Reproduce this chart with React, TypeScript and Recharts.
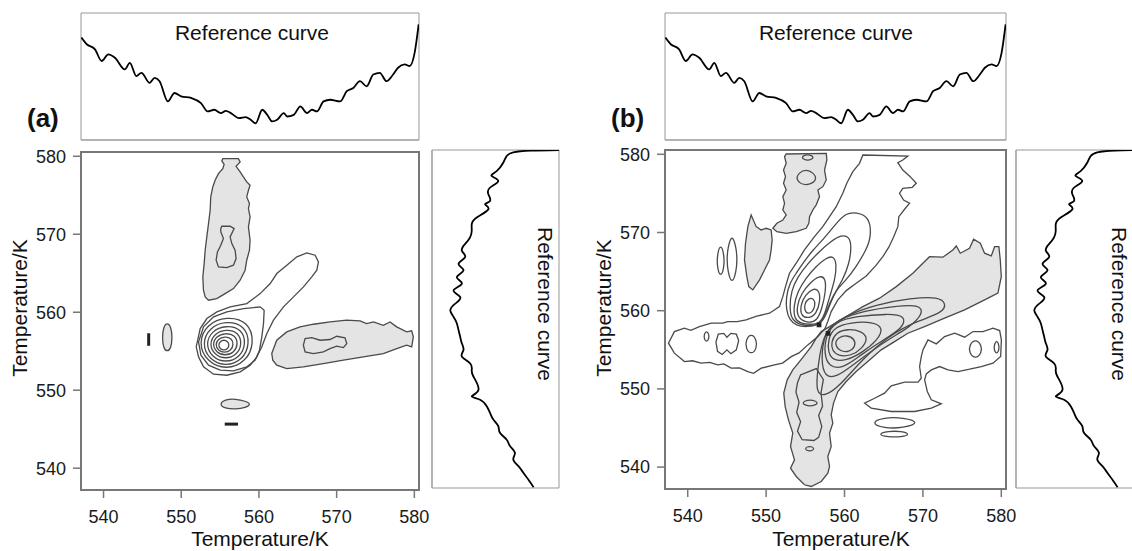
import {
  ScatterChart, Scatter, LineChart, Line, XAxis, YAxis, ReferenceArea,
} from 'recharts'

type Pt = [number, number]

const FONT = '"Liberation Sans", Arial, Helvetica, sans-serif'
const GRAY = '#e4e4e4'
const LINE = '#4a4a4a'

// axes
const X_DOMAIN: [number, number] = [537.1, 580.6]
const Y_DOMAIN: [number, number] = [537.2, 580.55]
const MAIN_TICKS = [540, 550, 560, 570, 580]
const TOP_DOMAIN: [number, number] = [536.9, 580.65]
const TOP_TICKS = [540, 545, 550, 555, 560, 565, 570, 575, 580]
const SIDE_DOMAIN: [number, number] = [536.9, 580.5]
const SIDE_TICKS = [540, 545, 550, 555, 560, 565, 570, 575]

// reference curves: [temperature, intensity 0-100]
const REF_TOP: Pt[] = [
  [536.95, 80.7], [537.64, 75.4], [538.71, 71.4], [539.57, 62.2], [540.43, 67.5], [541.29, 64.8],
  [542.57, 55.6], [543.22, 60.8], [544.07, 50.3], [544.72, 52.9], [545.79, 45.0], [546.43, 48.9],
  [547.07, 46.3], [548.15, 30.4], [549.0, 37.0], [549.86, 34.4], [551.15, 33.1], [552.43, 29.1],
  [553.29, 22.5], [554.15, 23.8], [555.0, 21.2], [555.65, 23.0], [556.3, 21.2], [557.36, 17.2],
  [558.22, 18.0], [558.86, 15.9], [559.51, 13.2], [560.36, 23.8], [561.01, 19.8], [561.65, 14.6],
  [562.29, 15.9], [563.15, 21.2], [563.58, 18.5], [564.44, 19.8], [565.29, 26.5], [566.15, 21.2],
  [566.8, 23.8], [567.44, 22.5], [568.3, 30.4], [569.15, 31.7], [570.44, 30.4], [571.3, 38.4],
  [572.15, 41.0], [573.01, 46.3], [573.87, 42.3], [574.73, 51.6], [575.58, 52.9], [576.44, 46.3],
  [577.3, 51.6], [577.94, 56.9], [578.8, 59.5], [579.44, 58.2], [580.09, 68.8], [580.6, 91.0],
]

const REF_SIDE: Pt[] = [
  [580.5, 100], [580.42, 78], [580.2, 64], [579.7, 58.7], [578.85, 56.1], [577.78, 50.9],
  [577.14, 47.0], [576.5, 52.2], [575.64, 45.7], [574.79, 44.4], [573.93, 45.7], [573.5, 41.8],
  [572.86, 44.4], [571.79, 35.2], [570.94, 31.3], [570.09, 31.3], [569.23, 30.0], [568.38, 26.1],
  [567.52, 23.5], [566.67, 26.1], [565.81, 20.9], [564.96, 24.8], [564.1, 19.6], [563.25, 23.5],
  [562.39, 17.0], [561.54, 22.2], [560.68, 18.3], [559.83, 14.4], [558.97, 17.0], [558.12, 19.6],
  [557.26, 20.9], [556.41, 22.2], [555.56, 23.5], [554.7, 24.8], [553.85, 23.5], [552.99, 30.0],
  [552.14, 31.3], [551.28, 32.6], [549.57, 36.6], [548.72, 31.3], [548.29, 37.9], [547.44, 43.1],
  [546.58, 45.7], [545.73, 48.3], [544.87, 52.2], [544.02, 53.5], [543.16, 58.7], [542.31, 61.4],
  [541.45, 65.3], [540.6, 64.0], [539.74, 67.9], [538.89, 71.8], [538.03, 75.7], [537.0, 80.0],
]

// ---- panel (a) contours: [T1, T2] ----
const A_TOP_LOBE: Pt[] = [
  [555.35, 579.7], [557.36, 579.7], [557.58, 579.27], [557.06, 578.72], [557.58, 577.99], [558.0, 577.35],
  [558.43, 576.71], [558.86, 576.28], [558.65, 575.64], [558.43, 574.79], [558.78, 573.93], [558.65, 573.29],
  [558.86, 572.22], [558.65, 570.94], [558.86, 569.23], [558.78, 567.95], [558.43, 566.67], [558.22, 565.39],
  [557.58, 564.1], [556.72, 563.03], [555.65, 562.39], [554.58, 561.75], [553.51, 561.54], [553.08, 561.97],
  [552.86, 562.82], [552.78, 564.53], [552.95, 566.24], [553.08, 567.95], [553.29, 569.66], [553.51, 571.37],
  [553.72, 573.08], [553.8, 574.79], [554.06, 576.07], [554.36, 576.92], [554.79, 577.78], [555.35, 578.42],
  [555.52, 578.97], [555.22, 579.4],
]
const A_TOP_INNER: Pt[] = [
  [555.22, 571.03], [556.29, 571.03], [556.81, 570.73], [556.29, 569.66], [556.51, 568.8], [556.93, 567.95],
  [557.06, 566.88], [556.72, 566.03], [555.86, 565.73], [554.79, 565.81], [554.49, 566.67], [554.66, 567.74],
  [555.09, 568.59], [555.43, 569.45], [555.09, 570.3], [555.09, 570.73],
]
const A_RIGHT_LOBE: Pt[] = [
  [561.65, 554.7], [562.29, 556.41], [563.58, 557.48], [565.29, 558.12], [567.01, 558.46], [569.15, 558.76],
  [571.3, 558.98], [573.01, 558.89], [573.87, 558.55], [574.73, 558.76], [576.01, 558.33], [576.87, 558.76],
  [577.73, 558.12], [579.01, 557.48], [579.66, 557.61], [579.87, 556.84], [579.66, 555.56], [579.01, 555.77],
  [577.73, 555.34], [576.01, 554.7], [573.44, 554.27], [570.87, 553.85], [568.29, 553.42], [565.72, 552.99],
  [563.58, 552.78], [562.29, 553.21], [561.78, 553.85],
]
const A_RIGHT_INNER: Pt[] = [
  [565.72, 555.77], [565.94, 556.62], [566.79, 556.75], [567.87, 556.41], [569.15, 556.5], [570.01, 556.92],
  [571.08, 556.71], [571.3, 555.98], [570.87, 555.47], [570.01, 555.64], [569.15, 555.34], [568.29, 554.91],
  [567.01, 554.7], [565.94, 554.91],
]
const A_DIAG: Pt[] = [
  [551.93, 555.56], [552.44, 557.91], [553.3, 559.19], [554.59, 560.04], [556.3, 560.69], [558.44, 561.11],
  [560.16, 562.39], [561.45, 563.68], [562.3, 564.96], [563.59, 566.03], [564.88, 567.1], [566.16, 567.61],
  [567.23, 567.31], [567.66, 566.45], [567.45, 565.39], [566.8, 564.53], [565.73, 563.25], [564.45, 561.97],
  [563.16, 560.69], [561.87, 558.98], [561.02, 557.27], [560.37, 555.56], [559.73, 554.27], [558.87, 553.21],
  [557.59, 552.35], [555.87, 551.92], [554.16, 552.05], [552.87, 552.99], [552.23, 554.27],
]
const A_LOOP: Pt[] = [
  [552.23, 556.2], [552.87, 558.12], [554.16, 559.4], [555.87, 560.04], [558.02, 560.47], [560.16, 560.69],
  [560.67, 560.26], [560.59, 558.55], [560.37, 556.84], [560.07, 555.13], [559.52, 553.85], [558.44, 553.0],
  [556.73, 552.48], [555.01, 552.57], [553.51, 553.21], [552.53, 554.49],
]
const A_RING_1: Pt[] = [
  [552.2, 556.05], [553.28, 558.47], [555.81, 559.5], [558.7, 558.81], [559.42, 556.05], [558.34, 553.63],
  [555.81, 552.6], [553.28, 553.63],
]
const A_RING_2: Pt[] = [
  [552.67, 555.96], [553.6, 558.02], [555.76, 558.9], [558.23, 558.31], [558.85, 555.96], [557.92, 553.9],
  [555.76, 553.02], [553.6, 553.9],
]
const A_RING_3: Pt[] = [
  [553.14, 555.92], [553.92, 557.61], [555.74, 558.34], [557.82, 557.86], [558.34, 555.92], [557.56, 554.23],
  [555.74, 553.5], [553.92, 554.23],
]
const A_RING_4: Pt[] = [
  [553.62, 555.9], [554.25, 557.25], [555.72, 557.83], [557.4, 557.44], [557.82, 555.9], [557.19, 554.55],
  [555.72, 553.97], [554.25, 554.55],
]
const A_RING_5: Pt[] = [
  [554.01, 555.88], [554.5, 556.92], [555.66, 557.36], [556.98, 557.06], [557.31, 555.88], [556.82, 554.84],
  [555.66, 554.4], [554.5, 554.84],
]
const A_RING_6: Pt[] = [
  [554.39, 555.83], [554.74, 556.57], [555.57, 556.89], [556.51, 556.68], [556.75, 555.83], [556.4, 555.09],
  [555.57, 554.77], [554.74, 555.09],
]
const A_RING_7: Pt[] = [
  [554.78, 555.79], [554.99, 556.27], [555.49, 556.47], [555.99, 556.27], [556.2, 555.79], [555.99, 555.31],
  [555.49, 555.11], [554.99, 555.31],
]
const A_SMALL_OVAL: Pt[] = [
  [548.2, 558.7], [548.7, 558.1], [548.85, 556.8], [548.7, 555.4], [548.2, 554.9], [547.7, 555.4],
  [547.55, 556.8], [547.7, 558.1],
]
const A_LOW_OVAL: Pt[] = [
  [554.9, 548.2], [555.6, 548.8], [557.0, 548.9], [558.3, 548.6], [559.0, 548.2], [558.3, 547.75],
  [557.0, 547.55], [555.6, 547.65],
]
const A_DASH_LEFT: Pt[] = [[545.72, 557.2], [545.9, 557.2], [545.9, 555.8], [545.72, 555.8]]
const A_DASH_LOW: Pt[] = [[555.7, 545.74], [557.2, 545.74], [557.2, 545.56], [555.7, 545.56]]

// ---- panel (b) contours ----
const B_TOP_LOBE: Pt[] = [
  [552.56, 580.04], [557.67, 580.12], [557.75, 579.27], [557.45, 577.99], [557.67, 576.72], [557.24, 575.86],
  [556.6, 575.44], [556.81, 574.59], [556.39, 573.52], [555.96, 572.88], [555.54, 572.03], [555.45, 571.18],
  [555.11, 570.54], [553.84, 570.11], [552.56, 569.9], [551.37, 570.11], [550.86, 570.54], [551.37, 571.18],
  [552.13, 571.6], [552.56, 572.24], [552.13, 572.88], [552.35, 573.73], [552.13, 574.59], [552.56, 575.44],
  [552.22, 576.29], [552.47, 577.14], [552.22, 577.99], [552.56, 578.85], [552.35, 579.7],
]
const B_TOP_OVAL_1: Pt[] = [[554.3, 579.6], [555.3, 580.1], [556.3, 579.6], [555.3, 579.1]]
const B_TOP_OVAL_2: Pt[] = [
  [553.7, 576.7], [554.2, 577.7], [555.1, 578.05], [556.0, 577.7], [556.6, 576.7], [555.1, 575.85],
]
const B_LEFT_LOBE: Pt[] = [
  [548.09, 572.24], [548.73, 570.75], [549.37, 570.33], [550.01, 570.54], [550.64, 570.33], [550.77, 569.05],
  [550.64, 567.77], [550.43, 566.49], [549.79, 565.21], [549.16, 563.94], [548.3, 562.66], [547.79, 563.08],
  [547.54, 564.36], [547.24, 566.49], [547.37, 568.62], [547.67, 570.75],
]
const B_THIN_1: Pt[] = [
  [545.65, 569.9], [546.2, 568.0], [546.3, 566.6], [546.2, 565.0], [545.65, 563.3], [545.1, 565.0],
  [545.0, 566.6], [545.1, 568.0],
]
const B_THIN_2: Pt[] = [
  [544.2, 568.6], [544.65, 567.2], [544.65, 565.5], [544.2, 564.2], [543.75, 565.5], [543.75, 567.2],
]
const B_GRAY_BAND: Pt[] = [
  [558.09, 557.97], [560.22, 559.25], [562.34, 560.52], [564.47, 561.6], [566.6, 563.08], [568.72, 564.79],
  [569.99, 566.07], [570.85, 566.91], [572.55, 566.84], [573.82, 567.77], [574.26, 568.28], [574.77, 567.35],
  [575.95, 567.99], [576.47, 569.14], [577.32, 568.63], [577.87, 567.35], [578.72, 567.0], [579.15, 568.19],
  [579.69, 568.19], [579.87, 566.49], [580.0, 564.36], [579.57, 562.24], [577.87, 561.38], [575.32, 560.1],
  [572.76, 559.04], [570.21, 557.97], [568.08, 557.12], [566.38, 556.05], [564.68, 554.99], [562.97, 553.5],
  [561.49, 552.22], [560.22, 550.94], [559.15, 549.66], [558.6, 548.18], [558.3, 546.68], [558.51, 545.62],
  [558.09, 544.35], [558.3, 542.63], [557.87, 541.36], [558.09, 540.08], [557.87, 539.23], [557.03, 538.16],
  [555.75, 537.52], [554.89, 537.74], [553.84, 538.8], [553.11, 539.87], [553.62, 540.93], [553.11, 542.63],
  [553.4, 544.35], [552.85, 546.04], [552.43, 547.74], [552.25, 549.46], [552.69, 551.16], [553.4, 552.43],
  [554.26, 553.5], [555.11, 554.57], [555.75, 555.41], [556.39, 556.49], [557.03, 557.33],
]
const B_WHITE_BAND: Pt[] = [
  [562.34, 579.91], [568.08, 579.78], [567.44, 579.27], [566.8, 578.93], [567.44, 577.99], [568.38, 577.14],
  [569.15, 576.29], [568.64, 575.78], [567.44, 575.65], [567.02, 575.02], [567.53, 574.16], [568.3, 573.74],
  [567.66, 572.97], [566.93, 572.03], [566.8, 570.75], [566.25, 569.39], [565.65, 568.12], [564.89, 566.91],
  [563.96, 565.73], [562.77, 564.45], [561.49, 563.51], [560.22, 562.57], [559.15, 561.38], [558.3, 559.89],
  [557.87, 558.61], [557.5, 557.7], [556.6, 556.7], [555.32, 555.63], [554.2, 554.6], [553.2, 554.13],
  [552.1, 553.3], [551.07, 553.07], [549.37, 552.65], [548.4, 552.0], [547.66, 552.22], [546.6, 552.7],
  [545.54, 552.65], [544.6, 553.2], [543.83, 553.07], [542.8, 553.4], [541.71, 553.29], [540.6, 553.6],
  [539.58, 553.5], [538.3, 554.57], [537.54, 555.85], [538.3, 557.33], [539.58, 557.76], [540.4, 557.5],
  [541.49, 557.97], [542.99, 558.4], [544.47, 558.4], [545.11, 558.61], [546.3, 558.6], [547.45, 558.82],
  [548.8, 559.3], [550.43, 559.68], [551.7, 560.52], [552.13, 561.8], [552.47, 563.08], [552.98, 564.79],
  [553.84, 566.07], [554.89, 567.77], [556.17, 569.47], [557.23, 570.75], [558.09, 572.03], [558.94, 573.3],
  [559.78, 575.02], [560.29, 576.29], [561.06, 577.78], [561.91, 578.85],
]
const B_ARM_OVAL_1: Pt[] = [[542.4, 557.6], [542.85, 556.7], [542.4, 555.8], [541.95, 556.7]]
const B_ARM_OVAL_2: Pt[] = [
  [543.6, 556.0], [543.9, 557.0], [544.6, 557.1], [545.0, 556.6], [545.5, 557.1], [546.2, 557.0],
  [546.5, 556.2], [546.2, 555.0], [545.5, 554.5], [545.0, 555.0], [544.4, 554.4], [543.8, 554.8],
]
const B_ARM_OVAL_3: Pt[] = [
  [548.1, 557.1], [548.8, 556.3], [548.8, 555.1], [548.1, 554.4], [547.4, 555.1], [547.4, 556.3],
]
const B_WHITE_1: Pt[] = [
  [552.99, 558.82], [552.56, 560.1], [552.56, 561.81], [552.99, 563.51], [553.84, 564.79], [554.69, 566.07],
  [555.96, 567.77], [557.24, 569.05], [558.94, 571.18], [560.2, 572.5], [561.5, 572.6], [563.2, 572.0],
  [563.41, 569.47], [562.77, 567.77], [561.5, 565.64], [560.22, 563.94], [558.94, 562.66], [558.09, 560.95],
  [557.45, 559.25], [556.8, 558.2], [555.2, 557.9], [553.8, 558.1],
]
const B_WHITE_2: Pt[] = [
  [553.2, 558.9], [553.0, 560.5], [553.2, 562.5], [554.0, 564.3], [555.3, 566.0], [556.8, 567.6],
  [558.3, 568.9], [559.6, 569.7], [560.6, 569.5], [560.9, 568.2], [560.6, 566.0], [559.8, 564.0],
  [558.6, 562.0], [557.7, 559.6], [557.1, 558.4], [555.8, 558.0], [554.3, 558.2],
]
const B_WHITE_3: Pt[] = [
  [553.6, 558.9], [553.5, 560.6], [554.0, 562.4], [555.0, 564.1], [556.4, 565.7], [557.7, 566.8],
  [558.6, 567.0], [559.0, 566.0], [558.8, 564.0], [558.1, 561.8], [557.5, 559.6], [556.9, 558.4],
  [555.6, 558.2], [554.4, 558.4],
]
const B_WHITE_4: Pt[] = [
  [554.0, 559.0], [553.9, 560.6], [554.5, 562.2], [555.6, 563.6], [556.8, 564.5], [557.6, 564.2],
  [557.6, 562.4], [557.1, 560.2], [556.5, 558.7], [555.4, 558.4],
]
const B_WHITE_5: Pt[] = [
  [554.4, 559.3], [554.4, 560.8], [555.0, 562.0], [556.0, 562.9], [556.8, 562.6], [556.9, 561.2],
  [556.4, 559.6], [555.5, 559.0],
]
const B_WHITE_6: Pt[] = [
  [554.9, 560.0], [554.9, 560.9], [555.4, 561.6], [556.1, 561.6], [556.3, 560.7], [555.9, 559.8],
  [555.3, 559.6],
]
const B_GRAY_1: Pt[] = [
  [558.7, 555.8], [559.2, 556.6], [560.3, 556.9], [561.3, 556.4], [561.4, 555.4], [560.6, 554.7], [559.4, 554.8],
]
const B_GRAY_2: Pt[] = [
  [558.3, 556.0], [558.9, 557.2], [560.4, 557.7], [562.2, 557.4], [563.0, 556.5], [562.3, 555.2],
  [560.8, 554.2], [559.2, 554.2], [558.4, 554.9],
]
const B_GRAY_3: Pt[] = [
  [557.9, 556.4], [558.7, 557.9], [560.8, 558.5], [563.6, 558.6], [565.0, 557.8], [564.2, 556.2],
  [562.2, 554.6], [560.2, 553.6], [558.6, 553.6], [557.9, 554.6],
]
const B_GRAY_4: Pt[] = [
  [557.6, 556.8], [558.8, 558.6], [561.5, 559.3], [565.5, 559.6], [567.8, 559.4], [567.5, 557.8],
  [565.0, 556.3], [562.0, 554.3], [559.8, 552.6], [558.0, 552.8], [557.4, 554.5],
]
const B_GRAY_5: Pt[] = [
  [557.4, 557.2], [559.2, 558.9], [562.5, 560.0], [566.5, 560.6], [569.7, 560.8], [570.0, 559.6],
  [568.5, 558.0], [565.0, 556.0], [561.0, 553.0], [559.0, 551.5], [557.5, 551.5], [557.0, 553.6],
]
const B_GRAY_6: Pt[] = [
  [557.3, 557.5], [560.0, 559.3], [564.0, 560.8], [568.5, 561.6], [572.0, 561.8], [573.0, 560.9],
  [572.5, 559.7], [569.0, 558.6], [565.5, 556.7], [562.0, 553.5], [559.5, 550.5], [557.5, 549.0],
  [556.3, 549.5], [556.6, 552.8],
]
const B_STEM_LOOP: Pt[] = [
  [554.4, 551.8], [556.4, 552.6], [557.3, 551.2], [557.0, 549.5], [557.2, 547.8], [556.7, 546.6],
  [557.1, 545.2], [556.7, 543.8], [556.1, 543.4], [554.6, 543.5], [554.0, 544.6], [554.4, 545.8],
  [553.9, 547.0], [554.2, 548.3], [553.8, 549.6], [554.0, 550.8],
]
const B_STEM_OVAL_1: Pt[] = [[554.3, 548.2], [555.6, 548.75], [556.95, 548.2], [555.6, 547.65]]
const B_STEM_OVAL_2: Pt[] = [[554.8, 542.35], [555.55, 542.75], [556.3, 542.35], [555.55, 541.95]]
const B_RIGHT_REGION: Pt[] = [
  [570.01, 554.99], [570.65, 556.27], [571.71, 555.76], [572.77, 556.69], [574.05, 557.12], [575.33, 556.61],
  [576.39, 557.33], [577.66, 557.33], [578.94, 557.76], [579.79, 557.46], [580.01, 556.27], [579.92, 554.14],
  [578.94, 553.29], [577.45, 552.86], [575.96, 552.52], [574.47, 552.22], [573.2, 552.43], [572.13, 552.86],
  [571.07, 552.43], [570.43, 551.92], [570.22, 551.16], [570.56, 549.67], [571.07, 548.6], [572.35, 548.09],
  [571.07, 547.54], [568.94, 547.11], [565.96, 547.11], [563.41, 547.54], [562.56, 548.17], [563.84, 548.81],
  [565.11, 549.45], [565.96, 550.39], [567.67, 550.86], [569.37, 550.86], [569.79, 551.37], [569.58, 552.86],
  [569.79, 554.14],
]
const B_RIGHT_OVAL_1: Pt[] = [
  [576.7, 556.4], [577.5, 555.6], [577.5, 554.6], [576.7, 553.8], [575.9, 554.6], [575.9, 555.6],
]
const B_RIGHT_OVAL_2: Pt[] = [[579.4, 556.4], [579.85, 555.3], [579.4, 554.25], [578.95, 555.3]]
const B_LOW_OVAL_1: Pt[] = [
  [563.3, 545.7], [565.0, 546.35], [567.5, 546.35], [569.7, 545.7], [567.5, 545.0], [565.0, 544.95],
]
const B_LOW_OVAL_2: Pt[] = [
  [564.2, 544.2], [565.5, 544.6], [567.3, 544.6], [568.4, 544.2], [567.3, 543.85], [565.5, 543.85],
]
const B_KNOT_1: Pt[] = [[556.55, 558.4], [556.95, 558.4], [556.95, 558.0], [556.55, 558.0]]
const B_KNOT_2: Pt[] = [[557.7, 557.3], [558.1, 557.3], [558.1, 556.9], [557.7, 556.9]]

type Curve = 'linearClosed' | 'basisClosed'
interface Contour { pts: Pt[]; fill?: string; curve?: Curve; dark?: boolean }

const A_CONTOURS: Contour[] = [
  { pts: A_TOP_LOBE, fill: GRAY },
  { pts: A_TOP_INNER, fill: GRAY },
  { pts: A_RIGHT_LOBE, fill: GRAY },
  { pts: A_RIGHT_INNER, fill: GRAY },
  { pts: A_SMALL_OVAL, fill: GRAY, curve: 'basisClosed' },
  { pts: A_LOW_OVAL, fill: GRAY, curve: 'basisClosed' },
  { pts: A_DIAG },
  { pts: A_LOOP },
  { pts: A_RING_1, curve: 'basisClosed' },
  { pts: A_RING_2, curve: 'basisClosed' },
  { pts: A_RING_3, curve: 'basisClosed' },
  { pts: A_RING_4, curve: 'basisClosed' },
  { pts: A_RING_5, curve: 'basisClosed' },
  { pts: A_RING_6, curve: 'basisClosed' },
  { pts: A_RING_7, curve: 'basisClosed' },
  { pts: A_DASH_LEFT, dark: true },
  { pts: A_DASH_LOW, dark: true },
]

const B_CONTOURS: Contour[] = [
  { pts: B_TOP_LOBE, fill: GRAY },
  { pts: B_TOP_OVAL_1, fill: GRAY, curve: 'basisClosed' },
  { pts: B_TOP_OVAL_2, fill: GRAY, curve: 'basisClosed' },
  { pts: B_LEFT_LOBE, fill: GRAY },
  { pts: B_THIN_1, curve: 'basisClosed' },
  { pts: B_THIN_2, curve: 'basisClosed' },
  { pts: B_GRAY_BAND, fill: GRAY },
  { pts: B_WHITE_BAND },
  { pts: B_ARM_OVAL_1, curve: 'basisClosed' },
  { pts: B_ARM_OVAL_2 },
  { pts: B_ARM_OVAL_3, curve: 'basisClosed' },
  { pts: B_WHITE_1, curve: 'basisClosed' },
  { pts: B_WHITE_2, curve: 'basisClosed' },
  { pts: B_WHITE_3, curve: 'basisClosed' },
  { pts: B_WHITE_4, curve: 'basisClosed' },
  { pts: B_WHITE_5, curve: 'basisClosed' },
  { pts: B_WHITE_6, curve: 'basisClosed' },
  { pts: B_GRAY_1, curve: 'basisClosed' },
  { pts: B_GRAY_2, curve: 'basisClosed' },
  { pts: B_GRAY_3, curve: 'basisClosed' },
  { pts: B_GRAY_4, curve: 'basisClosed' },
  { pts: B_GRAY_5, curve: 'basisClosed' },
  { pts: B_GRAY_6, curve: 'basisClosed' },
  { pts: B_STEM_LOOP },
  { pts: B_STEM_OVAL_1, curve: 'basisClosed' },
  { pts: B_STEM_OVAL_2, curve: 'basisClosed' },
  { pts: B_RIGHT_REGION },
  { pts: B_RIGHT_OVAL_1, curve: 'basisClosed' },
  { pts: B_RIGHT_OVAL_2, curve: 'basisClosed' },
  { pts: B_LOW_OVAL_1, curve: 'basisClosed' },
  { pts: B_LOW_OVAL_2, curve: 'basisClosed' },
  { pts: B_KNOT_1, fill: '#222', dark: true },
  { pts: B_KNOT_2, fill: '#222', dark: true },
]

const rows = (pts: Pt[]) => pts.map(([x, y]) => ({ x, y }))
const refRows = (pts: Pt[]) => pts.map(([t, v]) => ({ t, v }))

const NoDot = () => <g />
const AXIS = { stroke: '#777', strokeWidth: 2 }
const TICK_LINE = { stroke: '#777', strokeWidth: 1.5 }
const TICK = { fontSize: 18, fill: '#1a1a1a', fontFamily: FONT }
const THIN = { stroke: '#999', strokeWidth: 1 }

function ContourMap({ left, width, top, bottom, contours }: {
  left: number; width: number; top: number; bottom: number; contours: Contour[]
}) {
  return (
    <div style={{ position: 'absolute', left, top: 0 }}>
      <ScatterChart width={width} height={551} margin={{ top, right: 11, bottom: 0, left: 0 }}>
        <XAxis type="number" dataKey="x" domain={X_DOMAIN} allowDataOverflow ticks={MAIN_TICKS} interval={0}
          tickSize={8} tickMargin={12} height={bottom} axisLine={AXIS} tickLine={TICK_LINE} tick={TICK} />
        <YAxis type="number" dataKey="y" domain={Y_DOMAIN} allowDataOverflow ticks={MAIN_TICKS} interval={0}
          tickSize={8} tickMargin={7} width={81} axisLine={AXIS} tickLine={TICK_LINE} tick={TICK} />
        {contours.map((c, i) => (
          <Scatter
            key={i}
            data={rows(c.pts)}
            shape={NoDot}
            line={{ stroke: c.dark ? '#222' : LINE, strokeWidth: c.dark ? 1.6 : 1.3, fill: c.fill ?? 'none' }}
            lineType="joint"
            lineJointType={c.curve ?? 'linearClosed'}
            isAnimationActive={false}
          />
        ))}
        <ReferenceArea x1={X_DOMAIN[0]} x2={X_DOMAIN[1]} y1={Y_DOMAIN[0]} y2={Y_DOMAIN[1]}
          fill="none" stroke="#777" strokeWidth={2} />
      </ScatterChart>
    </div>
  )
}

function TopReference({ left, width }: { left: number; width: number }) {
  return (
    <div style={{ position: 'absolute', left, top: 0 }}>
      <LineChart width={width} height={150} data={refRows(REF_TOP)} margin={{ top: 13, right: 11, bottom: 0, left: 81 }}>
        <XAxis type="number" dataKey="t" domain={TOP_DOMAIN} allowDataOverflow ticks={TOP_TICKS} interval={0}
          tick={false} tickSize={4} height={10} axisLine={THIN} tickLine={THIN} />
        <YAxis hide domain={[0, 100]} />
        <ReferenceArea x1={TOP_DOMAIN[0]} x2={TOP_DOMAIN[1]} y1={0} y2={100} fill="none" stroke="#999" />
        <Line dataKey="v" type="monotone" stroke="#000" strokeWidth={1.8} dot={false} isAnimationActive={false} />
      </LineChart>
    </div>
  )
}

function SideReference({ left }: { left: number }) {
  return (
    <div style={{ position: 'absolute', left, top: 0 }}>
      <ScatterChart width={170} height={551} margin={{ top: 150, right: 11, bottom: 63, left: 0 }}>
        <XAxis type="number" dataKey="v" domain={[0, 100]} hide />
        <YAxis type="number" dataKey="t" domain={SIDE_DOMAIN} allowDataOverflow ticks={SIDE_TICKS} interval={0}
          tick={false} tickSize={4} width={32} axisLine={THIN} tickLine={THIN} />
        <ReferenceArea x1={0} x2={100} y1={SIDE_DOMAIN[0]} y2={SIDE_DOMAIN[1]} fill="none" stroke="#999" />
        <Scatter data={refRows(REF_SIDE)} shape={NoDot} line={{ stroke: '#000', strokeWidth: 1.8 }}
          lineType="joint" lineJointType="natural" isAnimationActive={false} />
      </ScatterChart>
    </div>
  )
}

export default function App() {
  return (
    <div style={{
      position: 'absolute', left: 0, top: 0, width: 1132, height: 551,
      overflow: 'hidden', background: '#fff', fontFamily: FONT,
    }}>
      <TopReference left={0} width={430} />
      <TopReference left={584} width={433} />
      <SideReference left={400} />
      <SideReference left={984} />
      <ContourMap left={0} width={430} top={152} bottom={61} contours={A_CONTOURS} />
      <ContourMap left={584} width={433} top={150} bottom={62} contours={B_CONTOURS} />

      {/* titles and axis names */}
      <svg width={1132} height={551} style={{ position: 'absolute', left: 0, top: 0, pointerEvents: 'none' }}
        fontFamily={FONT} fill="#111">
        <text x={252} y={40} fontSize={21} textAnchor="middle">Reference curve</text>
        <text x={836} y={40} fontSize={21} textAnchor="middle">Reference curve</text>
        <text x={27} y={127} fontSize={26} fontWeight="bold">(a)</text>
        <text x={611} y={127} fontSize={26} fontWeight="bold">(b)</text>
        <text x={260} y={546} fontSize={21} textAnchor="middle">Temperature/K</text>
        <text x={841} y={546} fontSize={21} textAnchor="middle">Temperature/K</text>
        <text transform="translate(27,308) rotate(-90)" fontSize={21} textAnchor="middle">Temperature/K</text>
        <text transform="translate(611,308) rotate(-90)" fontSize={21} textAnchor="middle">Temperature/K</text>
        <text transform="translate(538,304) rotate(90)" fontSize={21} textAnchor="middle">Reference curve</text>
        <text transform="translate(1112,304) rotate(90)" fontSize={21} textAnchor="middle">Reference curve</text>
      </svg>
    </div>
  )
}
